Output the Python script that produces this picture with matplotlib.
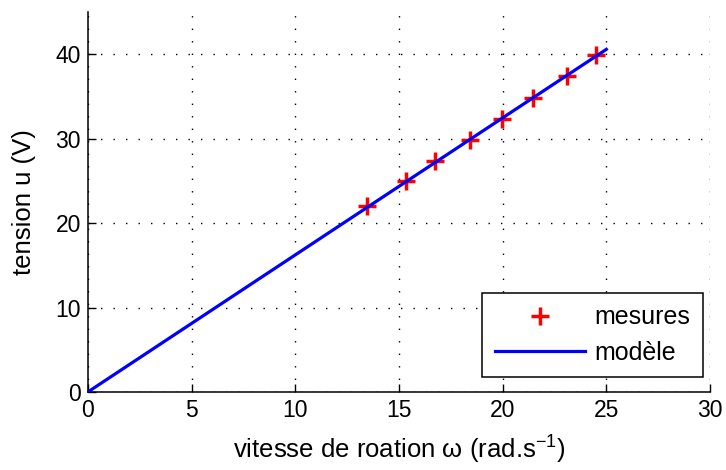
import matplotlib
matplotlib.use('Agg')
import matplotlib.pyplot as plt

# measured points
omega = [13.45, 15.35, 16.75, 18.45, 19.95, 21.45, 23.1, 24.5]
tension = [22.0, 25.0, 27.4, 29.8, 32.3, 34.8, 37.4, 39.9]

# model line
model_omega = [0, 25]
model_tension = [0, 40.6]

x_ticks = [0, 5, 10, 15, 20, 25, 30]
y_ticks = [0, 10, 20, 30, 40]

plt.rcParams['font.family'] = ['Liberation Sans', 'DejaVu Sans']
plt.rcParams['mathtext.fontset'] = 'custom'
plt.rcParams['mathtext.rm'] = 'Liberation Sans'

fig = plt.figure(figsize=(7.26, 4.70), dpi=100)
ax = fig.add_axes([0.121, 0.166, 0.857, 0.808])

ax.plot(omega, tension, '+', color='red', markersize=13, mew=2.5, label='mesures', zorder=3)
ax.plot(model_omega, model_tension, '-', color='blue', lw=2.3, label='modèle', zorder=4)

ax.set_xlim(0, 30)
ax.set_ylim(0, 45)
ax.set_xticks(x_ticks)
ax.set_yticks(y_ticks)
ax.tick_params(direction='in', labelsize=16.5, length=6, width=1.0, colors='black', pad=5)
ax.spines['top'].set_visible(False)
ax.spines['right'].set_visible(False)
for s in ['left', 'bottom']:
    ax.spines[s].set_linewidth(1.1)
ax.grid(True, linestyle=(0, (1, 8)), color='black', lw=1.0)
ax.set_axisbelow(True)

ax.set_xlabel('vitesse de roation ω (rad.s$^{\\mathrm{-1}}$)', fontsize=18.5, labelpad=7)
ax.set_ylabel('tension u (V)', fontsize=18.5, labelpad=14)

leg = ax.legend(loc='lower right', bbox_to_anchor=(0.989, 0.039), borderaxespad=0,
                fontsize=18, handlelength=3.6, fancybox=False,
                framealpha=1, edgecolor='black',
                borderpad=0.5, labelspacing=0.45, handletextpad=0.4)
leg.get_frame().set_linewidth(1.1)

fig.savefig('out.png', dpi=100)
